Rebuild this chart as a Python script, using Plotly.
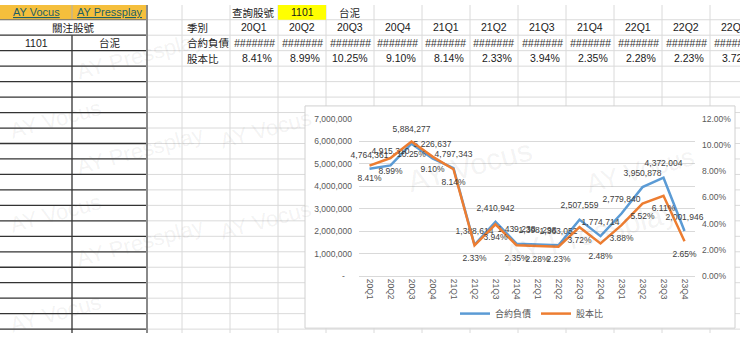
import plotly.graph_objects as go

# ---- data -------------------------------------------------------------
quarters = ['20Q1', '20Q2', '20Q3', '20Q4', '21Q1', '21Q2', '21Q3', '21Q4',
            '22Q1', '22Q2', '22Q3', '22Q4', '23Q1', '23Q2', '23Q3', '23Q4']
contract_liab = [4764361, 4915310, 5884277, 5226637, 4797343, 1388614,
                 2410942, 1439238, 1398298, 1363052, 2507559, 1774714,
                 2779840, 3950878, 4372004, 2001946]
equity_ratio = [8.41, 8.99, 10.25, 9.10, 8.14, 2.33, 3.94, 2.35,
                2.28, 2.23, 3.72, 2.48, 3.88, 5.52, 6.11, 2.65]

left_ticks = [0, 1000000, 2000000, 3000000, 4000000, 5000000, 6000000, 7000000]
left_ticktext = ['-', '1,000,000', '2,000,000', '3,000,000', '4,000,000',
                 '5,000,000', '6,000,000', '7,000,000']
right_ticks = [0, 2, 4, 6, 8, 10, 12]
right_ticktext = ['0.00%', '2.00%', '4.00%', '6.00%', '8.00%', '10.00%', '12.00%']

watch_code, watch_name = '1101', '台泥'
table_quarters = quarters[:11]

# ---- geometry helpers (pixel -> paper) ---------------------------------
W, H = 740, 338


def px(x):
    return x / W


def py(y):
    return 1 - y / H


FONT = 'Liberation Sans, Noto Sans CJK TC, sans-serif'
CJK = 'Noto Sans CJK TC, Liberation Sans, sans-serif'

shapes = []
annotations = []


def line(x0, y0, x1, y1, color, width=1):
    shapes.append(dict(type='line', xref='paper', yref='paper',
                       x0=px(x0), y0=py(y0), x1=px(x1), y1=py(y1),
                       line=dict(color=color, width=width), layer='below'))


def rect(x0, y0, x1, y1, fill, border=None):
    shapes.append(dict(type='rect', xref='paper', yref='paper',
                       x0=px(x0), y0=py(y0), x1=px(x1), y1=py(y1),
                       fillcolor=fill,
                       line=dict(color=border or fill, width=1 if border else 0),
                       layer='below'))


def text(x, y, s, anchor='center', size=11, color='#1a1a1a', family=FONT, **kw):
    annotations.append(dict(xref='paper', yref='paper', x=px(x), y=py(y),
                            text=s, showarrow=False, xanchor=anchor,
                            yanchor='middle', font=dict(size=size, color=color,
                                                        family=family), **kw))


# ---- worksheet grid ---------------------------------------------------
ROW0 = 15.2
ROWH = 15.94
row_lines = [ROW0 + ROWH * k for k in range(21)]
col_lines = [182 + 48 * k for k in range(12)]

for x in col_lines:
    line(x, 0, x, H, '#DADADA')
for y in row_lines:
    line(147, y, W, y, '#DADADA')

# watch list block on the left
rect(0, 0, 147, ROW0, '#F5BF3C')
rect(278, 0, 326, ROW0, '#FFFF00')
line(72, 0, 72, ROW0, '#B0B0B0')
line(0, ROW0, 147, ROW0, '#6a6a6a')
for y in row_lines[1:]:
    line(0, y, 147, y, '#333333', 1.3)
line(72, row_lines[1], 72, H, '#333333', 1.3)
line(147, 0, 147, H, '#8a8a8a', 2)

# chart area background
rect(305, 104, 735, 333, '#FFFFFF', '#D0D0D0')

# ---- worksheet text ---------------------------------------------------
r1, r2, r3, r4 = 7.6, ROW0 + ROWH * 0.5, ROW0 + ROWH * 1.5, ROW0 + ROWH * 2.5
text(36, r1, '<u>AY Vocus</u>', size=11, color='#1F5F66')
text(110, r1, '<u>AY Pressplay</u>', size=11, color='#1F5F66')
text(73, r2, '關注股號', family=CJK, size=10.5)
text(36, r3, watch_code, size=10.5)
text(110, r3, watch_name, family=CJK, size=10.5)

text(277, r1, '查詢股號', anchor='right', family=CJK, size=10.5)
text(302, r1, watch_code, size=10.5)
text(350, r1, watch_name, family=CJK, size=10.5)

text(185, r2, '季別', anchor='left', family=CJK, size=10.5)
text(185, r3, '合約負債', anchor='left', family=CJK, size=10.5)
text(185, r4, '股本比', anchor='left', family=CJK, size=10.5)

for i, q in enumerate(table_quarters):
    left = 230 + 48 * i
    text(left + 24, r2, q, size=10.5)
    text(left + 24, r3, '<i>#######</i>', size=10.5, color='#333333')
    text(left + 44, r4, f'{equity_ratio[i]:.2f}%', anchor='right', size=10.5)

# faint overlay marks
wm = 'rgba(90,90,90,0.08)'
for (x, y, s, sz) in [(55, 118, 'AY Vocus', 22), (140, 150, 'AY Pressplay', 22),
                      (265, 128, 'AY Vocus', 22), (55, 215, 'AY Vocus', 22),
                      (140, 245, 'AY Pressplay', 22), (265, 222, 'AY Vocus', 22),
                      (55, 318, 'AY Vocus', 22), (140, 52, 'AY Pressplay', 22),
                      (470, 165, 'AY Vocus', 30), (590, 235, 'AY Pressplay', 30),
                      (640, 170, 'AY Vocus', 26)]:
    text(x, y, s, size=sz, color=wm, textangle=-15)

# ---- chart ------------------------------------------------------------
label_font = dict(size=8.5, color='#404040', family=FONT)
ghost = dict(size=13, color='rgba(0,0,0,0)')

fig = go.Figure()
fig.add_trace(go.Scatter(
    x=quarters, y=contract_liab, name='合約負債', mode='lines+markers+text',
    text=[f'{v:,}' for v in contract_liab], textposition='top center',
    textfont=label_font, marker=ghost,
    line=dict(color='#5B9BD5', width=2.5), cliponaxis=False))
fig.add_trace(go.Scatter(
    x=quarters, y=equity_ratio, name='股本比', mode='lines+markers+text',
    yaxis='y2',
    text=[f'{v:.2f}%' for v in equity_ratio], textposition='bottom center',
    textfont=label_font, marker=ghost,
    line=dict(color='#ED7D31', width=2.5), cliponaxis=False))

tick_font = dict(size=8.5, color='#595959', family=FONT)
fig.update_layout(
    width=W, height=H, margin=dict(l=0, r=0, t=0, b=0),
    paper_bgcolor='#FFFFFF', plot_bgcolor='rgba(0,0,0,0)',
    shapes=shapes, annotations=annotations,
    xaxis=dict(domain=[px(359), px(695)], type='category', range=[-0.5, 15.5],
               tickangle=90, tickfont=tick_font, showgrid=False,
               showline=True, linecolor='#D9D9D9', linewidth=1, ticks='',
               zeroline=False, fixedrange=True),
    yaxis=dict(domain=[py(279.3), py(117)], range=[0, 7000000],
               tickmode='array', tickvals=left_ticks,
               ticktext=[t + '\u00a0' * 3 if t == '-' else t for t in left_ticktext],
               tickfont=tick_font, gridcolor='#D9D9D9', gridwidth=1,
               zeroline=False, showline=False, ticks='', ticklabelstandoff=6),
    yaxis2=dict(overlaying='y', side='right', range=[0, 12],
                tickmode='array', tickvals=right_ticks, ticktext=right_ticktext,
                tickfont=tick_font, showgrid=False,
                zeroline=False, showline=False, ticks='', ticklabelstandoff=6),
    legend=dict(orientation='h', x=px(532), xanchor='center', y=py(318),
                yanchor='middle', font=dict(size=9, color='#595959', family=CJK),
                bgcolor='rgba(0,0,0,0)', itemwidth=30),
    showlegend=True,
)

fig.write_html('out.html')
